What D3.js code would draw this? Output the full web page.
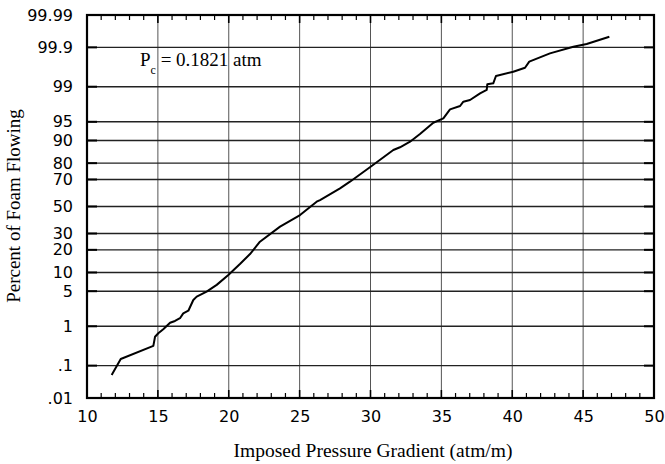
<!DOCTYPE html>
<html>
<head>
<meta charset="utf-8">
<script src="https://cdn.jsdelivr.net/npm/d3@7"></script>
<style>
body { margin: 0; background: #fff; }
</style>
</head>
<body>
<div id="chart"></div>
<script>
// imposed pressure gradient (atm/m) vs cumulative percent of foam flowing
const gradient = [11.74, 12.38, 14.68, 14.80, 15.03, 15.38, 15.86, 16.21, 16.56, 16.79, 17.15, 17.50, 17.74,
	18.44, 19.15, 19.97, 20.79, 21.50, 22.20, 23.62, 25.03, 26.20, 26.44, 27.85, 28.55, 30.08, 31.61, 32.08,
	32.79, 33.49, 34.43, 35.14, 35.61, 36.32, 36.55, 37.02, 37.73, 38.20, 38.24, 38.66, 38.85, 40.07, 40.90,
	41.20, 42.66, 44.31, 45.25, 46.85];
const percent = [0.053, 0.153, 0.34, 0.57, 0.69, 0.86, 1.20, 1.31, 1.50, 1.90, 2.15, 3.47, 4.0,
	4.9, 6.4, 9.2, 13.2, 17.8, 24.7, 34.8, 43.4, 53.7, 55.0, 63.8, 68.5, 78.4, 86.37, 87.5,
	89.58, 92.04, 94.81, 95.66, 97.04, 97.45, 97.91, 98.07, 98.60, 98.82, 99.118, 99.163, 99.436, 99.557, 99.648,
	99.754, 99.853, 99.904, 99.920, 99.951];

const probTicks = [0.01, 0.1, 1, 5, 10, 20, 30, 50, 70, 80, 90, 95, 99, 99.9, 99.99];
const probLabels = [".01", ".1", "1", "5", "10", "20", "30", "50", "70", "80", "90", "95", "99", "99.9", "99.99"];
const xTicks = [10, 15, 20, 25, 30, 35, 40, 45, 50];

// inverse of the standard normal cdf (Acklam)
function probit(p) {
	const a = [-3.969683028665376e+01, 2.209460984245205e+02, -2.759285104469687e+02, 1.383577518672690e+02, -3.066479806614716e+01, 2.506628277459239e+00];
	const b = [-5.447609879822406e+01, 1.615858368580409e+02, -1.556989798598866e+02, 6.680131188771972e+01, -1.328068155288572e+01];
	const c = [-7.784894002430293e-03, -3.223964580411365e-01, -2.400758277161838e+00, -2.549732539343734e+00, 4.374664141464968e+00, 2.938163982698783e+00];
	const d = [7.784695709041462e-03, 3.224671290700398e-01, 2.445134137142996e+00, 3.754408661907416e+00];
	const pl = 0.02425;
	let q, r;
	if (p < pl) {
		q = Math.sqrt(-2 * Math.log(p));
		return (((((c[0]*q+c[1])*q+c[2])*q+c[3])*q+c[4])*q+c[5]) / ((((d[0]*q+d[1])*q+d[2])*q+d[3])*q+1);
	}
	if (p > 1 - pl) {
		q = Math.sqrt(-2 * Math.log(1 - p));
		return -(((((c[0]*q+c[1])*q+c[2])*q+c[3])*q+c[4])*q+c[5]) / ((((d[0]*q+d[1])*q+d[2])*q+d[3])*q+1);
	}
	q = p - 0.5; r = q * q;
	return (((((a[0]*r+a[1])*r+a[2])*r+a[3])*r+a[4])*r+a[5])*q / (((((b[0]*r+b[1])*r+b[2])*r+b[3])*r+b[4])*r+1);
}

const WIDTH = 665;
const HEIGHT = 464;
const LEFT = 87, RIGHT = 654, TOP = 15, BOTTOM = 398;

const svg = d3.select("#chart").append("svg")
	.attr("width", WIDTH)
	.attr("height", HEIGHT);

const xScale = d3.scaleLinear().domain([10, 50]).range([LEFT, RIGHT]);
// probability axis: linear in normal quantiles
const zScale = d3.scaleLinear().domain([probit(0.0001), probit(0.9999)]).range([BOTTOM, TOP]);
const yPos = pct => zScale(probit(pct / 100));
const zTicks = probTicks.map(p => probit(p / 100));

// vertical grid
svg.append("g")
	.selectAll("line").data(xTicks.slice(1, -1))
	.enter().append("line")
	.attr("x1", d => xScale(d)).attr("x2", d => xScale(d))
	.attr("y1", TOP).attr("y2", BOTTOM)
	.attr("stroke", "#555").attr("stroke-width", 1);

// horizontal grid
svg.append("g")
	.selectAll("line").data(zTicks.slice(1, -1))
	.enter().append("line")
	.attr("x1", LEFT).attr("x2", RIGHT)
	.attr("y1", d => zScale(d)).attr("y2", d => zScale(d))
	.attr("stroke", "#222").attr("stroke-width", 1.4);

// minor ticks along top and bottom
const minor = d3.range(11, 50);
[BOTTOM, TOP].forEach(edge => {
	const dir = edge === BOTTOM ? -1 : 1;
	svg.append("g")
		.selectAll("line").data(minor)
		.enter().append("line")
		.attr("x1", d => xScale(d)).attr("x2", d => xScale(d))
		.attr("y1", edge).attr("y2", d => edge + dir * (d % 5 === 0 ? 8 : 5))
		.attr("stroke", "#000").attr("stroke-width", d => d % 5 === 0 ? 1.6 : 1.2);
});

// short heavy ticks on left and right
[LEFT, RIGHT].forEach(edge => {
	const dir = edge === LEFT ? 1 : -1;
	svg.append("g")
		.selectAll("line").data(zTicks.slice(1, -1))
		.enter().append("line")
		.attr("x1", edge).attr("x2", edge + dir * 10)
		.attr("y1", d => zScale(d)).attr("y2", d => zScale(d))
		.attr("stroke", "#000").attr("stroke-width", 2);
});

// axis labels
const yAxis = d3.axisLeft(zScale)
	.tickValues(zTicks)
	.tickFormat((d, i) => probLabels[i])
	.tickSize(0)
	.tickPadding(14);
svg.append("g")
	.attr("class", "y axis")
	.attr("transform", `translate(${LEFT}, 0)`)
	.call(yAxis)
	.call(g => g.select(".domain").remove());

const xAxis = d3.axisBottom(xScale)
	.tickValues(xTicks)
	.tickFormat(d3.format("d"))
	.tickSize(0)
	.tickPadding(13);
svg.append("g")
	.attr("class", "x axis")
	.attr("transform", `translate(0, ${BOTTOM})`)
	.call(xAxis)
	.call(g => g.select(".domain").remove());

svg.selectAll(".axis text")
	.attr("font-family", "'DejaVu Sans', sans-serif")
	.attr("font-size", 16)
	.attr("fill", "#000");

// frame
svg.append("rect")
	.attr("x", LEFT).attr("y", TOP)
	.attr("width", RIGHT - LEFT).attr("height", BOTTOM - TOP)
	.attr("fill", "none").attr("stroke", "#000").attr("stroke-width", 2.2);

// data curve
const line = d3.line()
	.x((d, i) => xScale(gradient[i]))
	.y(d => yPos(d));
svg.append("path")
	.datum(percent)
	.attr("d", line)
	.attr("fill", "none")
	.attr("stroke", "#000")
	.attr("stroke-width", 2)
	.attr("stroke-linejoin", "round");

// titles
svg.append("text")
	.attr("x", 373)
	.attr("y", 457)
	.attr("text-anchor", "middle")
	.attr("font-family", "'Liberation Serif', serif")
	.attr("font-size", 19.5)
	.text("Imposed Pressure Gradient (atm/m)");

svg.append("text")
	.attr("transform", "translate(20, 206) rotate(-90)")
	.attr("text-anchor", "middle")
	.attr("font-family", "'Liberation Serif', serif")
	.attr("font-size", 19)
	.text("Percent of Foam Flowing");

const note = svg.append("text")
	.attr("x", 140)
	.attr("y", 66)
	.attr("font-family", "'Liberation Serif', serif")
	.attr("font-size", 19);
note.append("tspan").text("P");
note.append("tspan").attr("dy", 8).attr("font-size", 12).text("c");
note.append("tspan").attr("dy", -8).text(" = 0.1821 atm");
</script>
</body>
</html>
